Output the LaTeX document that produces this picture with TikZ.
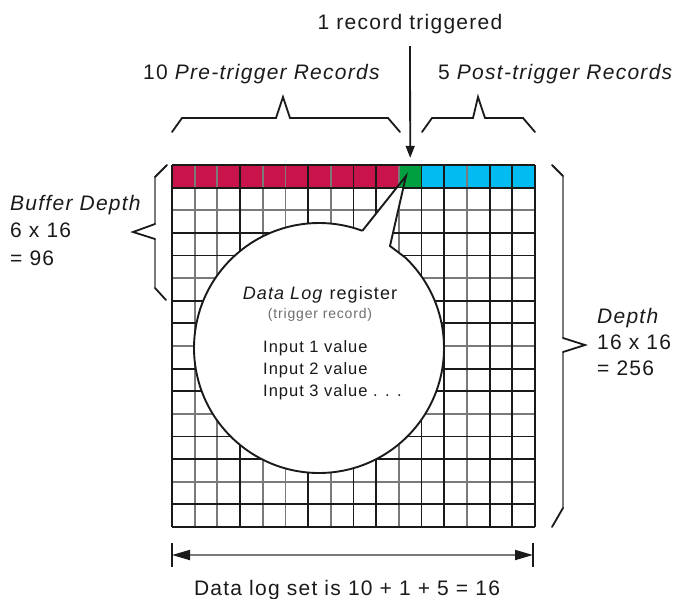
\documentclass[tikz,border=0pt]{standalone}
\usepackage{fontspec}
\setmainfont{Liberation Sans}[LetterSpace=6]
\usetikzlibrary{arrows.meta,calc}
\definecolor{cred}{HTML}{C8144B}
\definecolor{cgreen}{HTML}{00A040}
\definecolor{ccyan}{HTML}{00BCF0}
\definecolor{lgray}{HTML}{7A7A7A}
\definecolor{tgray}{HTML}{6E6E6E}
\definecolor{ink}{HTML}{1A1A1A}
\begin{document}
\begin{tikzpicture}[x=1pt,y=-1pt,
  cellbox/.style={draw=none,inner sep=0pt,minimum width=22.6875pt,minimum height=22.625pt},
  gblack/.style={draw=ink,line width=1.8pt},
  ggray/.style={draw=lgray,line width=1.8pt},
  brc/.style={draw=ink,line width=1.8pt,line join=miter,line cap=round},
  brcg/.style={draw=lgray,line width=1.8pt,line cap=round},
  lbl/.style={inner sep=0pt,text=ink,font=\fontsize{21}{25}\selectfont},
  bubtitle/.style={inner sep=0pt,anchor=base,text=ink,font=\fontsize{18}{20}\selectfont},
  bubsub/.style={inner sep=0pt,anchor=base,text=tgray,font=\fontsize{14}{16}\selectfont},
  bubin/.style={inner sep=0pt,anchor=base west,text=ink,font=\fontsize{16.5}{18}\selectfont},
  bubble/.style={draw=ink,line width=1.9pt,line join=miter}
]
\useasboundingbox (0,0) rectangle (680,598);

% top row cells
\foreach \i in {0,...,9}
  \node[cellbox,fill=cred] (cell\i) at ({172+(\i+0.5)*22.6875},176.3125) {};
\node[cellbox,fill=cgreen] (cell10) at ({172+10.5*22.6875},176.3125) {};
\foreach \i in {11,...,15}
  \node[cellbox,fill=ccyan] (cell\i) at ({172+(\i+0.5)*22.6875},176.3125) {};

% grid lines
\foreach \k in {1,2,4,5,7,10,13}
  \draw[ggray] ({172+\k*22.6875},165) -- ({172+\k*22.6875},527);
\foreach \k in {2,5,8,11,14}
  \draw[ggray] (172,{165+\k*22.625}) -- (535,{165+\k*22.625});
\foreach \k in {0,3,6,8,9,11,12,14,15,16}
  \draw[gblack] ({172+\k*22.6875},165) -- ({172+\k*22.6875},527);
\foreach \k in {0,1,3,4,6,7,9,10,12,13,15,16}
  \draw[gblack] (172,{165+\k*22.625}) -- (535,{165+\k*22.625});

% speech bubble
\coordinate (ctr) at (319,348);
\coordinate (bA) at ($(ctr)+(-69.7:125)$);
\coordinate (bT) at (406,176);
\coordinate (bB) at (390,246);
\coordinate (bC) at ($(ctr)+(-46.3:125)$);
\begin{scope}
  \clip (0,188) rectangle (680,598);
  \fill[white] (bA) -- (bT) -- (bB) -- (bC) arc[start angle=-46.3,end angle=290.3,radius=125] -- cycle;
\end{scope}
\draw[bubble] (bA) -- (bT) -- (bB) -- (bC) arc[start angle=-46.3,end angle=290.3,radius=125];

% bubble texts
\node[bubtitle] (dlr) at (320,299.5) {\textit{Data Log} register};
\node[bubsub] (trg) at (320,318) {(trigger record)};
\node[bubin] (in1) at (263,352) {Input 1 value};
\node[bubin] (in2) at (263,374) {Input 2 value};
\node[bubin] (in3) at (263,396) {Input 3 value . . .};

% trigger label and arrow
\node[lbl,anchor=base] (trig) at (410,29.5) {1 record triggered};
\draw[draw=ink,line width=1.8pt,-{Triangle[length=12pt,width=9pt]},shorten <=12pt,shorten >=7pt] (trig.south) -- (cell10.north);

% top braces and labels
\node[lbl,anchor=base] (pre) at (262,79.5) {10 \textit{Pre-trigger Records}};
\node[lbl,anchor=base west] (post) at (438,79.5) {5 \textit{Post-trigger Records}};
\draw[brc] (172,132) -- (182,118) -- (276,118) -- (283,97) -- (290,118) -- (388,118) -- (400,132);
\draw[brc] (422,132) -- (432,118) -- (473,118) -- (478,97) -- (485,118) -- (523,118) -- (535,132);

% left brace and label
\draw[brcg] (155,177) -- (155,224);
\draw[brcg] (155,239) -- (155,288);
\draw[brc] (167,165) -- (155,177);
\draw[brc] (155,224) -- (133,232) -- (155,239);
\draw[brc] (155,288) -- (166,300);
\node[lbl,anchor=base west] (bd1) at (10,210.5) {\textit{Buffer Depth}};
\node[lbl,anchor=base west] (bd2) at (10,237.5) {6 x 16};
\node[lbl,anchor=base west] (bd3) at (10,265.5) {= 96};

% right brace and label
\draw[brcg] (563,176) -- (563,338);
\draw[brcg] (563,352) -- (563,508);
\draw[brc] (552,165) -- (563,176);
\draw[brc] (563,338) -- (585,345) -- (563,352);
\draw[brc] (563,508) -- (552,527);
\node[lbl,anchor=base west] (dp1) at (597,323.5) {\textit{Depth}};
\node[lbl,anchor=base west] (dp2) at (597,349.5) {16 x 16};
\node[lbl,anchor=base west] (dp3) at (597,375.5) {= 256};

% bottom dimension
\coordinate (dl) at (172,555);
\coordinate (dr) at (533,555);
\draw[draw=ink,line width=1.8pt] (dl) ++(0,-12) -- ++(0,24);
\draw[draw=ink,line width=1.8pt] (dr) ++(0,-12) -- ++(0,24);
\draw[draw=lgray,line width=1.8pt,{Triangle[length=18pt,width=10pt,color=ink]}-{Triangle[length=18pt,width=10pt,color=ink]}] (dl) -- (dr);
\node[lbl,anchor=base] (setl) at (347,595) {Data log set is 10 + 1 + 5 = 16};
\end{tikzpicture}
\end{document}
